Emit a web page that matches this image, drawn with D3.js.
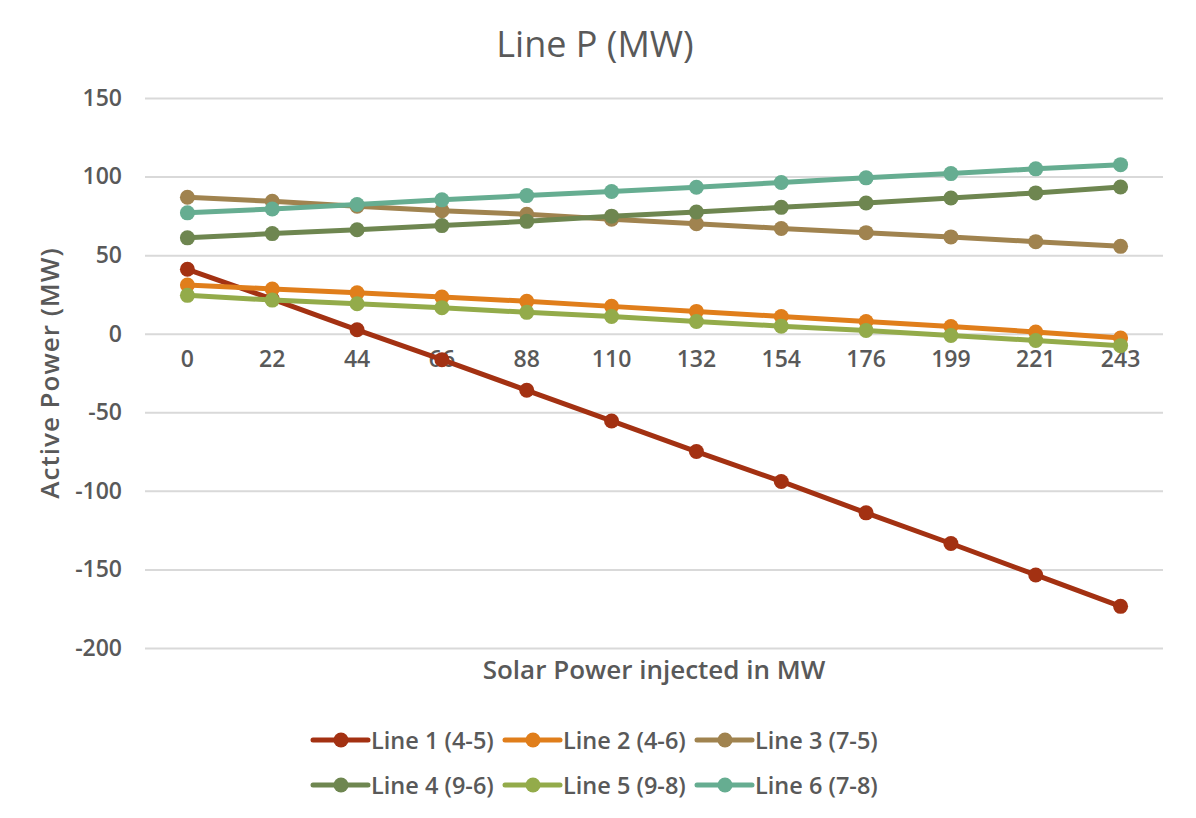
<!DOCTYPE html>
<html lang="en">
<head>
<meta charset="UTF-8">
<title>Line P (MW)</title>
<script src="https://d3js.org/d3.v7.min.js"></script>
<style>
  body { margin: 0; background: #fff; }
  text { font-family: "Open Sans", Lato, sans-serif; fill: #595959; }
</style>
</head>
<body>
<svg width="1196" height="818"></svg>
<script>
const categories = ["0", "22", "44", "66", "88", "110", "132", "154", "176", "199", "221", "243"];
const seriesNames = ["Line 1 (4-5)", "Line 2 (4-6)", "Line 3 (7-5)", "Line 4 (9-6)", "Line 5 (9-8)", "Line 6 (7-8)"];
const line1 = [41, 22, 2.5, -16.5, -36, -55.5, -75, -94, -114, -133.5, -153.5, -173.5];
const line2 = [31, 28.5, 26, 23.4, 20.6, 17.4, 14.2, 11, 7.8, 4.6, 1.1, -2.8];
const line3 = [86.8, 84.3, 81.1, 78.3, 76, 72.8, 70, 67, 64.3, 61.6, 58.6, 55.6];
const line4 = [61, 63.7, 66.2, 68.8, 71.5, 74.8, 77.5, 80.4, 83.2, 86.4, 89.6, 93.4];
const line5 = [24.4, 21.4, 19.1, 16.6, 13.6, 11, 7.8, 4.8, 2.1, -1.1, -4.3, -7.6];
const line6 = [76.9, 79.4, 82.2, 85.2, 87.9, 90.5, 93.2, 96.2, 99.2, 101.9, 104.9, 107.6];
const yTicks = [150, 100, 50, 0, -50, -100, -150, -200];
const colors = ["#A33112", "#E07E1B", "#A0834F", "#6E8650", "#93AB4A", "#66AD91"];

const allSeries = [line1, line2, line3, line4, line5, line6];

const svg = d3.select("svg");
const plotLeft = 145, plotRight = 1163, plotTop = 98, plotBottom = 648;

const x = d3.scaleBand().domain(categories).range([plotLeft, plotRight]);
const y = d3.scaleLinear().domain([-200, 150]).range([plotBottom, plotTop]);

// title
svg.append("text").attr("x", 595).attr("y", 57).attr("text-anchor", "middle")
  .style("font-size", "36px").style("font-weight", "500").text("Line P (MW)");

// gridlines + y labels
const yAxis = d3.axisLeft(y).tickValues(yTicks).tickFormat(d => String(d))
  .tickSize(-(plotRight - plotLeft)).tickPadding(23);
const gy = svg.append("g").attr("transform", `translate(${plotLeft},0)`).call(yAxis);
gy.select(".domain").remove();
gy.selectAll(".tick line").attr("stroke", "#d9d9d9").attr("stroke-width", 2);
gy.selectAll(".tick text").style("font-size", "23px").style("font-weight", "600").attr("fill", "#595959");

// x labels under zero line
const xAxis = d3.axisBottom(x).tickSize(0).tickPadding(17);
const gx = svg.append("g").attr("transform", `translate(0,${y(0)})`).call(xAxis);
gx.select(".domain").remove();
gx.selectAll(".tick text").style("font-size", "23px").style("font-weight", "600").attr("fill", "#595959");

// axis titles
svg.append("text").attr("transform", "translate(59,373) rotate(-90)").attr("text-anchor", "middle")
  .style("font-size", "26px").style("font-weight", "600").style("letter-spacing", "1px")
  .text("Active Power (MW)");
svg.append("text").attr("x", 654).attr("y", 679).attr("text-anchor", "middle")
  .style("font-size", "26px").style("font-weight", "600").text("Solar Power injected in MW");

// series
const line = d3.line().x((d, i) => x(categories[i]) + x.bandwidth() / 2).y(d => y(d));
allSeries.forEach((vals, s) => {
  const g = svg.append("g");
  g.append("path").datum(vals).attr("d", line).attr("fill", "none")
    .attr("stroke", colors[s]).attr("stroke-width", 5).attr("stroke-linejoin", "round");
  g.selectAll("circle").data(vals).join("circle")
    .attr("cx", (d, i) => x(categories[i]) + x.bandwidth() / 2)
    .attr("cy", d => y(d)).attr("r", 7.5).attr("fill", colors[s]);
});

// legend
const legX = [313, 505, 697];
const legY = [740, 785];
seriesNames.forEach((name, i) => {
  const lx = legX[i % 3], ly = legY[Math.floor(i / 3)];
  const g = svg.append("g").attr("transform", `translate(${lx},${ly})`);
  g.append("line").attr("x1", 0).attr("x2", 55).attr("stroke", colors[i])
    .attr("stroke-width", 5).attr("stroke-linecap", "round");
  g.append("circle").attr("cx", 28).attr("r", 7.5).attr("fill", colors[i]);
  g.append("text").attr("x", 58).attr("y", 8.5).style("font-size", "23.5px").style("font-weight", "600").text(name);
});
</script>
</body>
</html>
